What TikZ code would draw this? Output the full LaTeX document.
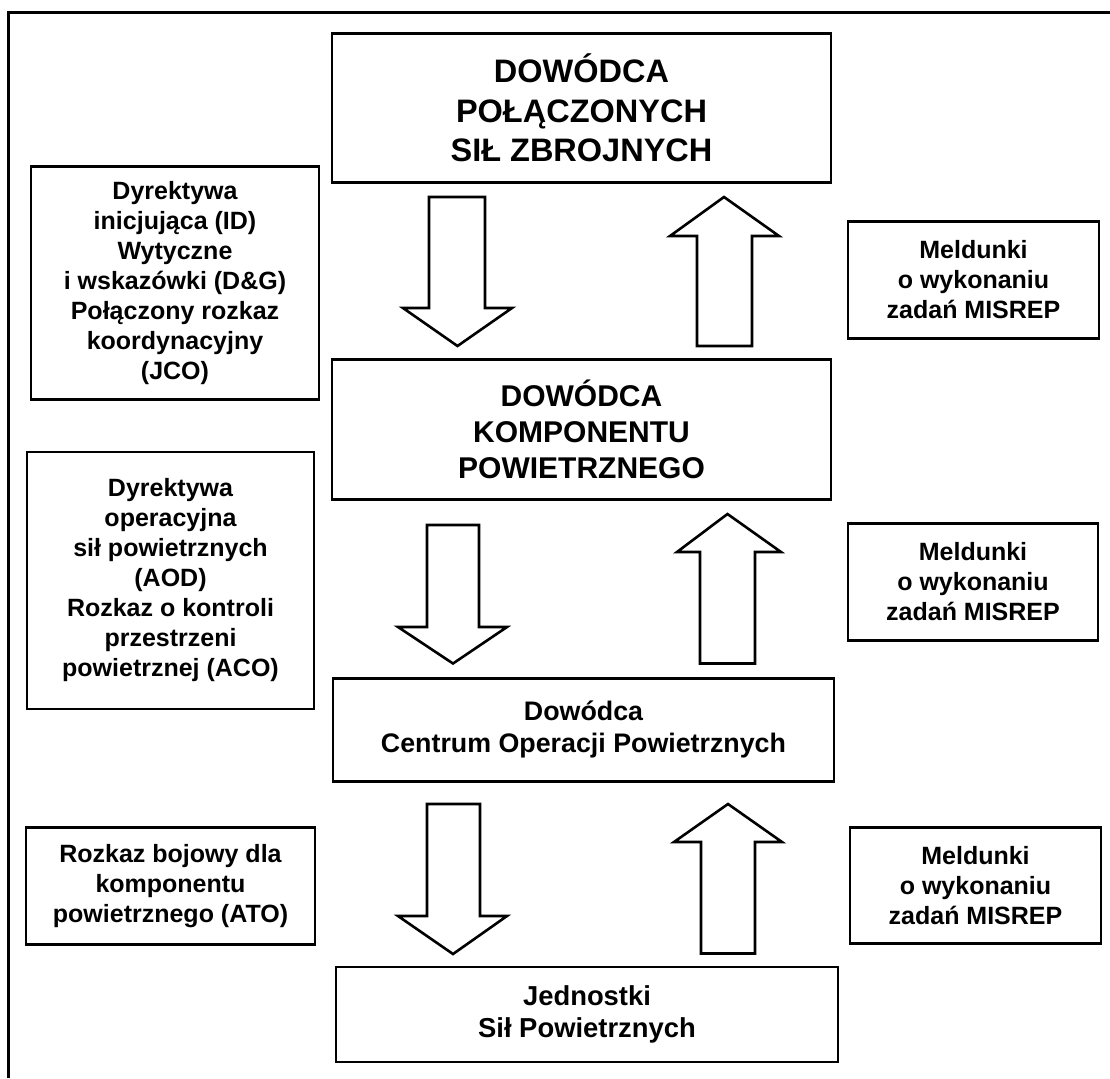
\documentclass[tikz,border=0pt]{standalone}
\usepackage{fontspec}
\setmainfont{Liberation Sans}
\tikzset{
  ramka/.style={draw, line width=1.3pt, inner sep=0pt, align=center},
  opis/.style={ramka, font=\fontsize{12.5}{15}\selectfont\bfseries},
  strzalka/.style={draw, line width=1.3pt, fill=white, line join=miter},
}

\begin{document}
\begin{tikzpicture}[x=0.5pt,y=-0.5pt]
    \useasboundingbox (0,0) rectangle (1110,1078);
    % ramka strony
    \draw[line width=1.5pt] (8,1078) -- (8,12) -- (1110,12);

    % srodek: szczeble dowodzenia
    \node[ramka, minimum width=249.5pt, minimum height=74.5pt,
          font=\fontsize{16.25}{19.85}\selectfont\bfseries] (dpsz) at (581.5,108)
          {DOWÓDCA\\POŁĄCZONYCH\\SIŁ ZBROJNYCH};
    \node[ramka, minimum width=249.5pt, minimum height=69.75pt,
          font=\fontsize{15}{18}\selectfont\bfseries] (dkp) at (581.5,429.5)
          {DOWÓDCA\\KOMPONENTU\\POWIETRZNEGO};
    \node[ramka, minimum width=250.5pt, minimum height=51.5pt,
          font=\fontsize{13.4}{15.85}\selectfont\bfseries] (dcop) at (583.5,729.7)
          {Dowódca\\Centrum Operacji Powietrznych};
    \node[ramka, minimum width=251pt, minimum height=47.5pt,
          font=\fontsize{13.7}{16.3}\selectfont\bfseries] (jsp) at (587,1014.5)
          {Jednostki\\Sił Powietrznych};

    % lewa: dokumenty w dol
    \node[opis, minimum width=144pt, minimum height=116.5pt] (id) at (175,283)
          {Dyrektywa\\inicjująca (ID)\\Wytyczne\\i wskazówki (D\&G)\\Połączony rozkaz\\koordynacyjny\\(JCO)};
    \node[opis, minimum width=143.5pt, minimum height=128.5pt] (aod) at (170.5,580.4)
          {Dyrektywa\\operacyjna\\sił powietrznych\\(AOD)\\Rozkaz o kontroli\\przestrzeni\\powietrznej (ACO)};
    \node[opis, minimum width=144.5pt, minimum height=58.35pt] (ato) at (170.5,886)
          {Rozkaz bojowy dla\\komponentu\\powietrznego (ATO)};

    % prawa: meldunki w gore
    \node[opis, minimum width=125.5pt, minimum height=58.4pt] (mel1) at (973.5,279.8)
          {Meldunki\\o wykonaniu\\zadań MISREP};
    \node[opis, minimum width=125pt, minimum height=58.5pt] (mel2) at (973,582)
          {Meldunki\\o wykonaniu\\zadań MISREP};
    \node[opis, minimum width=125.5pt, minimum height=57.8pt] (mel3) at (975.5,885.4)
          {Meldunki\\o wykonaniu\\zadań MISREP};

    % strzalki w dol
    \draw[strzalka] (429,197) -- (485,197) -- (485,308) -- (512,308) -- (457.5,346)
          -- (403,308) -- (429,308) -- cycle;
    \draw[strzalka] (427,525) -- (479,525) -- (479,627) -- (507,627) -- (453,663.5)
          -- (398,627) -- (427,627) -- cycle;
    \draw[strzalka] (427,804) -- (480,804) -- (480,916) -- (507,916) -- (453,954)
          -- (398,916) -- (427,916) -- cycle;

    % strzalki w gore
    \draw[strzalka] (697,346) -- (752,346) -- (752,236) -- (779,236) -- (724,197)
          -- (670,236) -- (697,236) -- cycle;
    \draw[strzalka] (700,663.5) -- (755,663.5) -- (755,552) -- (781,552) -- (727.5,514)
          -- (677,552) -- (700,552) -- cycle;
    \draw[strzalka] (701,953.5) -- (755,953.5) -- (755,842) -- (782,842) -- (728,804)
          -- (674,842) -- (701,842) -- cycle;
\end{tikzpicture}
\end{document}
